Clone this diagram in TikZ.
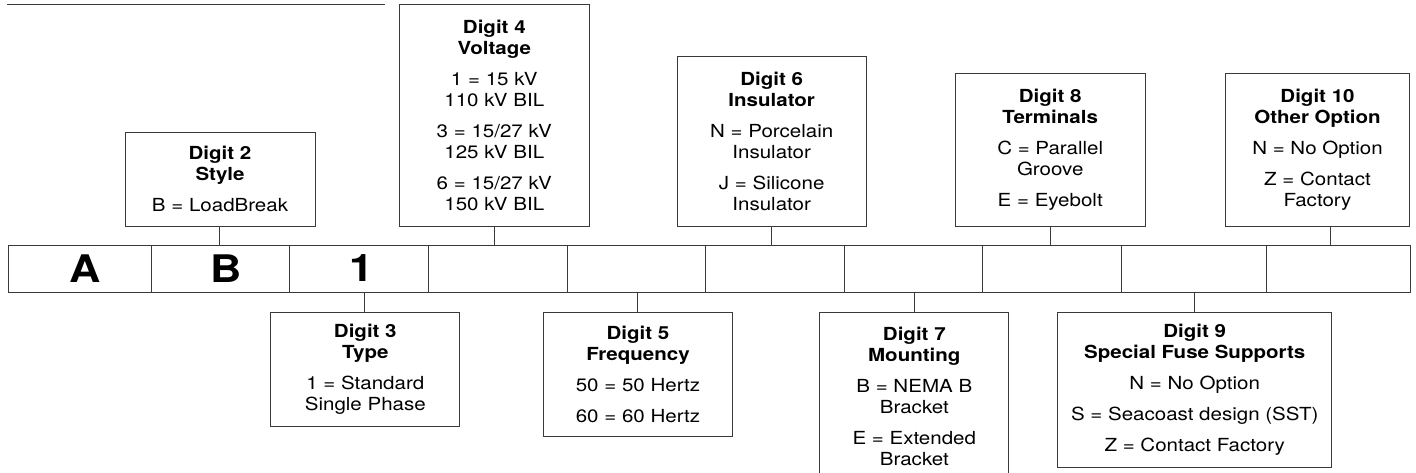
\documentclass[tikz,border=0pt]{standalone}
\usepackage{fontspec}
\setmainfont{TeX Gyre Heros}[FakeStretch=1.14]
\definecolor{lc}{HTML}{3A3A3A}
\begin{document}
\begin{tikzpicture}[x=1pt,y=-1pt,
  box/.style={draw=lc, line width=1pt, inner sep=0pt, align=center,
    font=\fontsize{18}{21}\selectfont},
  cell/.style={draw=lc, line width=1pt, inner sep=0pt, anchor=north west, minimum height=47.6pt},
  big/.style={inner sep=0pt, font=\fontsize{38}{38}\selectfont\bfseries},
  conn/.style={draw=lc, line width=1pt}]
\clip (0,0) rectangle (1416,472);
% top rule
\draw[conn] (7,4.3) -- (385,4.3);
% bar cells
\node[cell, minimum width=143.3pt] (c1) at (7.7,244.7) {};
\node[cell, minimum width=138.3pt] (c2) at (151,244.7) {};
\node[cell, minimum width=138.7pt] (c3) at (289.3,244.7) {};
\node[cell, minimum width=138.7pt] (c4) at (428,244.7) {};
\node[cell, minimum width=138.6pt] (c5) at (566.7,244.7) {};
\node[cell, minimum width=138.4pt] (c6) at (705.3,244.7) {};
\node[cell, minimum width=138.6pt] (c7) at (843.7,244.7) {};
\node[cell, minimum width=138.4pt] (c8) at (982.3,244.7) {};
\node[cell, minimum width=145.6pt] (c9) at (1120.7,244.7) {};
\node[cell, minimum width=143.4pt] (c10) at (1266.3,244.7) {};
\node[big] (lA) at (85,268.5) {A};
\node[big] (lB) at (226,268.5) {B};
\node[big] (l1) at (361.7,268.5) {1};
% upper boxes
\node[box, minimum width=190pt, minimum height=93.3pt] (b2) at (220,179.4)
  {\textbf{Digit 2}\\\textbf{Style}\\[10pt]B = LoadBreak};
\node[box, minimum width=190pt, minimum height=222pt] (b4) at (494.3,115.7)
  {\textbf{Digit 4}\\\textbf{Voltage}\\[10pt]1 = 15 kV\\110 kV BIL\\[10pt]3 = 15/27 kV\\125 kV BIL\\[10pt]6 = 15/27 kV\\150 kV BIL};
\node[box, minimum width=188.7pt, minimum height=170pt] (b6) at (771.7,141.7)
  {\textbf{Digit 6}\\\textbf{Insulator}\\[10pt]N = Porcelain\\Insulator\\[10pt]J = Silicone\\Insulator};
\node[box, minimum width=189.7pt, minimum height=152.7pt] (b8) at (1050.2,149.7)
  {\textbf{Digit 8}\\\textbf{Terminals}\\[10pt]C = Parallel\\Groove\\[10pt]E = Eyebolt};
\node[box, minimum width=183.6pt, minimum height=152.7pt] (b10) at (1317.5,149.7)
  {\textbf{Digit 10}\\\textbf{Other Option}\\[10pt]N = No Option\\[10pt]Z = Contact\\Factory};
% lower boxes
\node[box, minimum width=189.3pt, minimum height=114pt] (b3) at (365.3,369.7)
  {\textbf{Digit 3}\\\textbf{Type}\\[10pt]1 = Standard\\Single Phase};
\node[box, minimum width=189.4pt, minimum height=124.3pt] (b5) at (638,374.8)
  {\textbf{Digit 5}\\\textbf{Frequency}\\[10pt]50 = 50 Hertz\\[10pt]60 = 60 Hertz};
\node[box, minimum width=189.3pt, minimum height=167.3pt] (b7) at (914.3,396.4)
  {\textbf{Digit 7}\\\textbf{Mounting}\\[10pt]B = NEMA B\\Bracket\\[10pt]E = Extended\\Bracket};
\node[box, minimum width=274pt, minimum height=155pt] (b9) at (1194.7,390.2)
  {\textbf{Digit 9}\\\textbf{Special Fuse Supports}\\[10pt]N = No Option\\[10pt]S = Seacoast design (SST)\\[10pt]Z = Contact Factory};
% connector columns
\coordinate (k2) at (219.7,0);
\coordinate (k3) at (364.7,0);
\coordinate (k4) at (494.3,0);
\coordinate (k5) at (637.7,0);
\coordinate (k6) at (771.7,0);
\coordinate (k7) at (914,0);
\coordinate (k8) at (1050.3,0);
\coordinate (k9) at (1194.7,0);
\coordinate (k10) at (1330,0);
\draw[conn] (k2 |- b2.south) -- (k2 |- c2.north);
\draw[conn] (k4 |- b4.south) -- (k4 |- c4.north);
\draw[conn] (k6 |- b6.south) -- (k6 |- c6.north);
\draw[conn] (k8 |- b8.south) -- (k8 |- c8.north);
\draw[conn] (k10 |- b10.south) -- (k10 |- c10.north);
\draw[conn] (k3 |- c3.south) -- (k3 |- b3.north);
\draw[conn] (k5 |- c5.south) -- (k5 |- b5.north);
\draw[conn] (k7 |- c7.south) -- (k7 |- b7.north);
\draw[conn] (k9 |- c9.south) -- (k9 |- b9.north);
\end{tikzpicture}
\end{document}
